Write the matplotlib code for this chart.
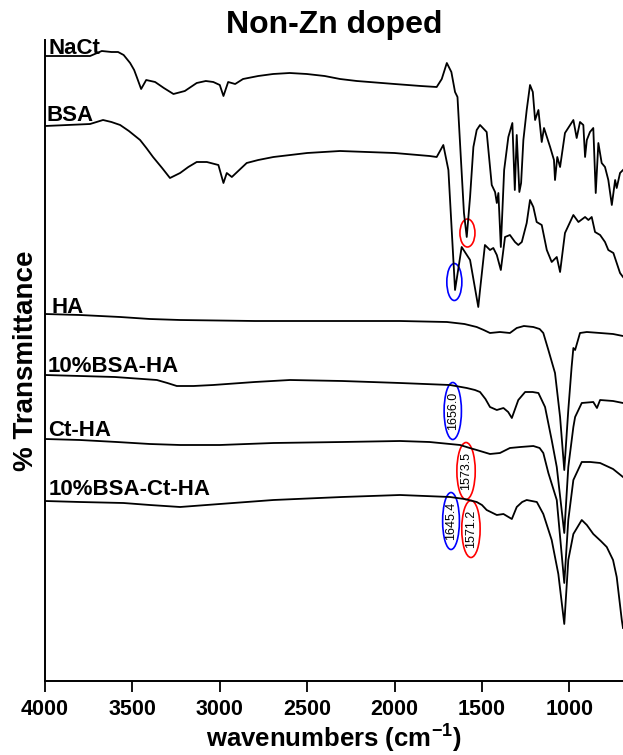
import matplotlib
matplotlib.use("Agg")
from matplotlib import pyplot as plt
from matplotlib.patches import Ellipse

plt.rcParams['font.family'] = ['Liberation Sans', 'DejaVu Sans']
plt.rcParams['mathtext.fontset'] = 'custom'
plt.rcParams['mathtext.bf'] = 'Liberation Sans:bold'

# FTIR spectra, offset %T (arbitrary units), wavenumbers in cm-1
nact_wn = [3999, 3742, 3675, 3620, 3582, 3550, 3513, 3490, 3475, 3450, 3421, 3370,
           3320, 3265, 3200, 3132, 3080, 3037, 3000, 2979, 2952, 2912, 2867, 2780,
           2695, 2600, 2502, 2400, 2312, 2216, 2000, 1850, 1759, 1730, 1701, 1675,
           1654, 1640, 1621, 1603, 1587, 1568, 1549, 1530, 1511, 1473, 1444, 1425,
           1415, 1406, 1392, 1373, 1349, 1326, 1312, 1301, 1286, 1276, 1263, 1244,
           1225, 1209, 1196, 1177, 1158, 1145, 1110, 1088, 1082, 1069, 1053, 1025,
           977, 958, 939, 920, 910, 900, 882, 863, 849, 834, 815, 796, 777, 757,
           738, 729, 710, 693]
nact_t = [632, 632, 637, 636, 636, 633, 625, 618, 611, 599, 608, 606,
          600, 594, 597, 605, 607, 606, 603, 592, 606, 604, 609, 612,
          614, 615, 614, 612, 609, 607, 604, 602, 601, 609, 625, 616,
          596, 591, 531, 475, 451, 491, 541, 558, 563, 556, 503, 496,
          485, 495, 441, 518, 551, 565, 498, 553, 496, 505, 548, 578,
          603, 596, 568, 578, 546, 560, 541, 528, 508, 531, 521, 555,
          568, 550, 566, 563, 531, 548, 556, 560, 495, 545, 525, 521, 508, 483,
          508, 500, 515, 518]

bsa_wn = [3999, 3742, 3668, 3620, 3570, 3520, 3456, 3420, 3382, 3330, 3285, 3227,
          3180, 3132, 3074, 3008, 2979, 2960, 2931, 2846, 2780, 2693, 2500, 2312,
          2000, 1800, 1759, 1721, 1692, 1673, 1654, 1616, 1568, 1521, 1511, 1483,
          1454, 1435, 1415, 1392, 1368, 1340, 1311, 1292, 1272, 1244, 1225, 1206,
          1187, 1158, 1129, 1101, 1072, 1053, 1025, 977, 948, 910, 891, 872, 853,
          824, 796, 777, 748, 729, 710, 693]
bsa_t = [562, 564, 568, 566, 563, 557, 548, 540, 531, 520, 510, 515,
         521, 526, 526, 523, 505, 515, 511, 525, 528, 531, 535, 537,
         535, 532, 531, 543, 518, 458, 398, 441, 428, 381, 398, 443,
         438, 440, 433, 418, 451, 453, 446, 443, 446, 465, 488, 481,
         466, 463, 438, 426, 431, 416, 455, 473, 466, 471, 468, 471, 456,
         453, 446, 438, 435, 425, 415, 411]

ha_wn = [3999, 3800, 3570, 3400, 3227, 2800, 2400, 1969, 1700, 1600, 1530, 1490,
         1454, 1397, 1340, 1301, 1260, 1206, 1170, 1149, 1120, 1082, 1053, 1029,
         1006, 987, 977, 967, 939, 900, 824, 750, 693]
ha_t = [374, 373, 371, 369, 368, 367, 367, 367, 366, 364, 361, 358,
        355, 356, 355, 360, 362, 361, 359, 355, 338, 315, 271, 218,
        278, 321, 340, 338, 355, 356, 355, 354, 352]

bsa_ha_wn = [3999, 3600, 3360, 3300, 3246, 3150, 3038, 2800, 2598, 2300, 1969, 1683,
             1587, 1540, 1511, 1480, 1454, 1415, 1377, 1350, 1329, 1292, 1253, 1210,
             1177, 1139, 1101, 1072, 1029, 1006, 977, 967, 929, 863, 842, 824, 750, 693]
bsa_ha_t = [313, 311, 308, 305, 302, 302, 303, 306, 308, 307, 305, 303,
            300, 298, 296, 289, 281, 278, 280, 276, 270, 288, 296, 296,
            295, 281, 248, 221, 155, 221, 261, 271, 285, 286, 280, 288, 287, 285]

ct_ha_wn = [3999, 3800, 3589, 3400, 3227, 3000, 2693, 2300, 1969, 1800, 1625, 1570,
            1530, 1454, 1397, 1340, 1280, 1206, 1170, 1149, 1120, 1072, 1029, 1006,
            977, 929, 880, 824, 750, 693]
ct_ha_t = [249, 248, 246, 244, 243, 243, 245, 246, 247, 246, 243, 240,
           238, 234, 235, 240, 241, 242, 240, 235, 215, 188, 105, 168,
           208, 226, 226, 225, 219, 211]

bsa_ct_ha_wn = [3999, 3800, 3551, 3400, 3227, 3000, 2693, 2300, 1969, 1683, 1600, 1530,
                1500, 1473, 1415, 1377, 1329, 1301, 1270, 1244, 1186, 1149, 1101, 1063,
                1029, 1006, 977, 929, 900, 863, 820, 786, 750, 729, 700, 693]
bsa_ct_ha_t = [187, 186, 185, 183, 181, 184, 188, 191, 193, 191, 189, 186,
               183, 178, 173, 174, 169, 181, 186, 188, 186, 174, 148, 114,
               64, 128, 154, 168, 163, 154, 147, 141, 128, 111, 68, 60]

spectra = [
    ("NaCt", nact_wn, nact_t, 3978, 634),
    ("BSA", bsa_wn, bsa_t, 3989, 567),
    ("HA", ha_wn, ha_t, 3962, 375),
    ("10%BSA-HA", bsa_ha_wn, bsa_ha_t, 3983, 316),
    ("Ct-HA", ct_ha_wn, ct_ha_t, 3983, 252),
    ("10%BSA-Ct-HA", bsa_ct_ha_wn, bsa_ct_ha_t, 3978, 193),
]

# peak markers: (centre wn, centre T, width, height, colour, label)
peaks = [
    (1658, 406, 86, 37, "blue", ""),
    (1583, 455, 86, 28, "red", ""),
    (1667, 277, 99, 57, "blue", "1656.0"),
    (1591, 217, 105, 57, "red", "1573.5"),
    (1677, 167, 96, 57, "blue", "1645.4"),
    (1563, 159, 105, 57, "red", "1571.2"),
]

fig = plt.figure(figsize=(6.23, 7.55), dpi=100)
ax = fig.add_axes([45 / 623, 1 - 681 / 755, 578 / 623, 641 / 755])

for name, wn, t, lx, ly in spectra:
    ax.plot(wn, t, color="black", lw=1.3)
    ax.text(lx, ly, name, fontsize=16, fontweight="bold", va="baseline", ha="left")

for x, y, w, h, c, lab in peaks:
    ax.add_patch(Ellipse((x, y), w, h, fill=False, edgecolor=c, lw=1.2))
    if lab:
        ax.text(x, y, lab, rotation=90, fontsize=9, ha="center", va="center")

ax.set_xlim(4000, 693)
ax.set_ylim(7, 648)
ax.set_xticks([4000, 3500, 3000, 2500, 2000, 1500, 1000])
ax.set_yticks([])
ax.tick_params(axis="x", direction="out", length=8, width=1.3, pad=5, labelsize=15.5)
for lbl in ax.get_xticklabels():
    lbl.set_fontweight("bold")
ax.spines["top"].set_visible(False)
ax.spines["right"].set_visible(False)
ax.spines["left"].set_linewidth(1.4)
ax.spines["bottom"].set_linewidth(1.4)

ax.set_title("Non-Zn doped", fontsize=23, fontweight="bold", pad=4)
ax.set_xlabel(r"wavenumbers (cm$^{\mathbf{-1}}$)", fontsize=18.5, fontweight="bold", labelpad=1)
ax.set_ylabel("% Transmittance", fontsize=20, fontweight="bold", labelpad=4)

fig.savefig("out.png", dpi=100)
